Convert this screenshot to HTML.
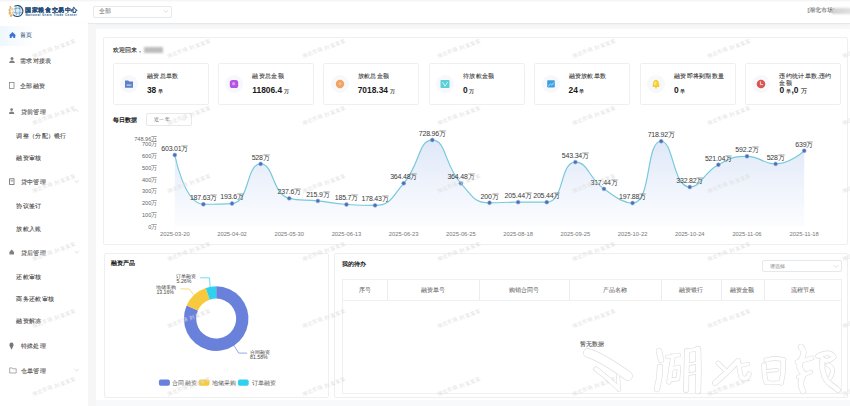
<!DOCTYPE html>
<html lang="zh"><head><meta charset="utf-8">
<style>
*{margin:0;padding:0;box-sizing:border-box}
html,body{width:850px;height:406px;overflow:hidden;background:#f8f9fb;font-family:"Liberation Sans",sans-serif;color:#333}
.abs{position:absolute}
.t{position:absolute;white-space:nowrap;line-height:1}
#hdr{left:0;top:0;width:850px;height:23.6px;background:#fff;border-bottom:1px solid #e8e8e8;box-shadow:0 1px 4px rgba(0,0,0,.045)}
#side{left:0;top:23px;width:88px;height:383px;background:#fff;box-shadow:1px 0 2px rgba(0,0,0,.03)}
#panel{left:95.6px;top:28px;width:755px;height:371.8px;background:#fff;border-top:1px solid #f7f7f7}
.card{position:absolute;border:1px solid #efefef;background:#fff;border-radius:2px}
.menu{font-size:6.4px;color:#4a4a4a;letter-spacing:0.3px;-webkit-text-stroke:0.1px #4a4a4a}
.stat .tt{position:absolute;font-size:6.3px;color:#333;white-space:nowrap;line-height:1;letter-spacing:0.3px;-webkit-text-stroke:0.08px #333}
.stat .vv{position:absolute;font-size:8.4px;font-weight:bold;color:#1a1a1a;white-space:nowrap;line-height:1}
.stat .vv small{font-size:5.3px;font-weight:normal;color:#333;margin-left:1.6px;-webkit-text-stroke:0.15px #333}
svg.chart,svg.donut,svg.ov{position:absolute;left:0;top:0}
.th{position:absolute;top:280px;height:20px;font-size:6.2px;color:#666;line-height:20px;text-align:center;-webkit-text-stroke:0.05px #666}
.wm{position:absolute;font-size:5px;letter-spacing:0.6px;color:#dedede;white-space:nowrap;line-height:1;transform:rotate(-20deg);transform-origin:center}
</style></head><body>
<div id="hdr" class="abs">
  <div class="abs" style="left:0;top:0;width:850px;height:2.2px;background:linear-gradient(#f1f1f1,#fff)"></div>
  <svg class="abs" style="left:0;top:0" width="90" height="23" viewBox="0 0 90 23">
    <g fill="#e6ae62" opacity="0.9">
      <ellipse cx="10.6" cy="7.6" rx="1" ry="1.6" transform="rotate(-20 10.6 7.6)"/>
      <ellipse cx="9.6" cy="10.2" rx="1.1" ry="1.7" transform="rotate(-5 9.6 10.2)"/>
      <ellipse cx="9.8" cy="13" rx="1.2" ry="1.7" transform="rotate(15 9.8 13)"/>
      <ellipse cx="11.2" cy="15.4" rx="1.2" ry="1.6" transform="rotate(40 11.2 15.4)"/>
      <ellipse cx="12.2" cy="9.4" rx="0.8" ry="1.4" fill="#f0c88a"/>
      <ellipse cx="12.4" cy="12.8" rx="0.9" ry="1.4" fill="#f0c88a"/>
    </g>
    <circle cx="17.6" cy="10.9" r="4.5" fill="#d9eef9"/>
    <g fill="none" stroke="#3a6f96" stroke-width="0.45">
      <path d="M13.6,9 Q17.6,7.4 21.6,9"/><path d="M13.4,12.4 Q17.6,14 21.8,12.4"/>
      <path d="M16.2,6.6 Q14.6,10.9 16.6,15.3"/><path d="M19,6.6 Q21,10.9 19.2,15.3"/>
    </g>
    <path d="M14.4,6.4 A5.5,5.5 0 1 1 13.2,14.6" fill="none" stroke="#1f4f75" stroke-width="1.1"/>
    <text x="25.4" y="11.9" font-size="5.9" fill="#1f4a76" font-weight="bold" letter-spacing="0.55" stroke="#1f4a76" stroke-width="0.12">国家粮食交易中心</text>
    <text x="25.4" y="15.9" font-size="3.1" fill="#2b5b8c" font-weight="bold" letter-spacing="0.4">National Grain Trade Center</text>
  </svg>
  <div class="abs" style="left:92.6px;top:5.9px;width:79.4px;height:11.7px;border:1px solid #e6e8ec;border-radius:2px;background:#fff"></div>
  <div class="t" style="left:98.5px;top:8.9px;font-size:5.8px;color:#555">全部</div>
  <svg class="abs" style="left:163px;top:9px" width="6" height="5" viewBox="0 0 6 5"><path d="M0.8,1.2 L3,3.4 L5.2,1.2" fill="none" stroke="#c4c4c4" stroke-width="0.6"/></svg>
  <div class="t" style="left:807.4px;top:8.4px;font-size:5.7px;color:#3a3a3a;letter-spacing:-0.1px">[湖北市场]</div>
  <div class="abs" style="left:832px;top:7.6px;width:22px;height:6.6px;background:linear-gradient(90deg,#d2d2d2,#dadada 60%,#e6e6e6);filter:blur(0.8px)"></div>
</div>

<div id="side" class="abs"></div>
<div class="abs" style="left:0;top:26px;width:88px;height:20px;background:linear-gradient(90deg,#eef7fd 0,#f7fbfe 18%,#fff 40%)"></div>
<svg class="abs" style="left:0;top:0" width="88" height="406" viewBox="0 0 88 406">
  <path d="M8.9,35.4 L12.5,32 L16.1,35.4 L15.2,35.4 L15.2,38 L13.3,38 L13.3,36.4 L11.7,36.4 L11.7,38 L9.8,38 L9.8,35.4 Z" fill="#3d72d4"/>
  <g fill="#808080">
    <circle cx="12" cy="58.4" r="1.5"/><path d="M9.2,63 Q9.2,60.4 12,60.4 Q14.8,60.4 14.8,63 Z"/>
    <circle cx="11.6" cy="109.6" r="1.4"/><path d="M9,114 Q9,111.6 11.6,111.6 Q14.2,111.6 14.2,114 Z"/>
    <rect x="10.6" y="180.4" width="2.4" height="1"/>
    <path d="M9.4,254.6 L14,254.6 L14,252 L11.7,249.6 L9.4,252 Z"/>
    <path d="M11.5,349.8 L9.5,345.6 Q9.3,342.6 11.5,342.6 Q13.7,342.6 13.5,345.6 Z" fill="#777"/>
  </g>
  <rect x="9.6" y="82.4" width="4.4" height="6" fill="none" stroke="#777" stroke-width="0.7"/>
  <rect x="9.6" y="178.8" width="4.4" height="5.6" fill="none" stroke="#666" stroke-width="0.8"/>
  <path d="M9.7,367.9 L12,367.9 L12.8,368.8 L16.2,368.8 L16.2,373 L9.7,373 Z" fill="none" stroke="#777" stroke-width="0.6"/>
  <g fill="none" stroke="#c8c8c8" stroke-width="0.6">
    <path d="M74,111.6 L76.2,109.6 L78.4,111.6"/>
    <path d="M74.5,180.4 L76.7,182.4 L78.9,180.4"/>
    <path d="M74.5,251 L76.7,253 L78.9,251"/>
    <path d="M74.5,369 L76.7,371 L78.9,369"/>
  </g>
</svg>
<div class="t menu" style="left:19.6px;top:32.1px;color:#4a6585;-webkit-text-stroke:0.1px #4a6585">首页</div>
<div class="t menu" style="left:20.2px;top:58.1px">需求对接表</div>
<div class="t menu" style="left:20.2px;top:83.1px">全部融资</div>
<div class="t menu" style="left:20.7px;top:109.3px">贷前管理</div>
<div class="t menu" style="left:16.4px;top:132.9px">调整（分配）银行</div>
<div class="t menu" style="left:16.4px;top:155.4px">融资审核</div>
<div class="t menu" style="left:20.7px;top:179.3px">贷中管理</div>
<div class="t menu" style="left:16.4px;top:202.9px">协议签订</div>
<div class="t menu" style="left:16.4px;top:226.2px">放款入账</div>
<div class="t menu" style="left:20.7px;top:249.6px">贷后管理</div>
<div class="t menu" style="left:16.4px;top:273.8px">还款审核</div>
<div class="t menu" style="left:16.4px;top:296.2px">商务还款审核</div>
<div class="t menu" style="left:16.4px;top:317.9px">融资解冻</div>
<div class="t menu" style="left:20.7px;top:342.9px">特殊处理</div>
<div class="t menu" style="left:20.7px;top:367.9px">仓单管理</div>

<div class="abs" style="left:88px;top:24px;width:7.6px;height:382px;background:#f6f6f7"></div>
<div id="panel" class="abs"></div>
<div class="card" style="left:103px;top:37px;width:745px;height:207.6px"></div>
<div class="t" style="left:112.6px;top:47.2px;font-size:6.2px;color:#222;-webkit-text-stroke:0.12px #222">欢迎回来，</div>
<div class="abs" style="left:143.7px;top:47px;width:19.7px;height:6.4px;background:#bdbdbd;filter:blur(0.9px)"></div>

<div class="card stat" style="left:112.5px;top:63.4px;width:96px;height:41.8px">
<svg class="abs" style="left:3.5px;top:7.7px" width="24" height="24" viewBox="-12 -12 24 24"><circle r="9" fill="#f7f8fb"/><path d="M-4,-3.6 L-0.8,-3.6 L0.4,-2.4 L4,-2.4 L4,3.8 L-4,3.8 Z" fill="#5f7fc8"/><rect x="-2.4" y="0.6" width="4.8" height="1" fill="#dfe8fb"/></svg>
<div class="tt" style="left:33.5px;top:8.6px">融资总单数</div>
<div class="vv" style="left:33.4px;top:21.9px">38<small>单</small></div>
</div>
<div class="card stat" style="left:217.9px;top:63.4px;width:96px;height:41.8px">
<svg class="abs" style="left:3.5px;top:7.7px" width="24" height="24" viewBox="-12 -12 24 24"><circle r="9" fill="#f7f8fb"/><rect x="-4.2" y="-4" width="8.4" height="8" rx="2.6" fill="#b455e2"/><circle cx="-0.4" cy="-0.3" r="1.6" fill="#de9cf5"/></svg>
<div class="tt" style="left:33.5px;top:8.6px">融资总金额</div>
<div class="vv" style="left:33.4px;top:21.9px">11806.4<small>万</small></div>
</div>
<div class="card stat" style="left:323.3px;top:63.4px;width:96px;height:41.8px">
<svg class="abs" style="left:3.5px;top:7.7px" width="24" height="24" viewBox="-12 -12 24 24"><circle r="9" fill="#f7f8fb"/><circle cx="0" cy="0" r="4.2" fill="#f2a263"/><path d="M-1.8,-0.4 L1.8,-0.4 M0,-2 L0,2" stroke="#f8c89a" stroke-width="0.7"/></svg>
<div class="tt" style="left:33.5px;top:8.6px">放款总金额</div>
<div class="vv" style="left:33.4px;top:21.9px">7018.34<small>万</small></div>
</div>
<div class="card stat" style="left:428.7px;top:63.4px;width:96px;height:41.8px">
<svg class="abs" style="left:3.5px;top:7.7px" width="24" height="24" viewBox="-12 -12 24 24"><circle r="9" fill="#f7f8fb"/><rect x="-4.5" y="-4" width="9" height="8" rx="0.8" fill="#5ccfd6"/><path d="M-2.6,-2 L0,2.2 L2.6,-2" fill="none" stroke="#c8f3f5" stroke-width="1"/></svg>
<div class="tt" style="left:33.5px;top:8.6px">待放款金额</div>
<div class="vv" style="left:33.4px;top:21.9px">0<small>万</small></div>
</div>
<div class="card stat" style="left:534.1px;top:63.4px;width:96px;height:41.8px">
<svg class="abs" style="left:3.5px;top:7.7px" width="24" height="24" viewBox="-12 -12 24 24"><circle r="9" fill="#f7f8fb"/><rect x="-3.8" y="-3.8" width="7.6" height="7.4" rx="0.8" fill="#3d9fe0"/><path d="M-2.6,2.4 L-0.6,-0.2 L1,1.2 L2.8,-1.6" fill="none" stroke="#a6e0fb" stroke-width="0.9"/></svg>
<div class="tt" style="left:33.5px;top:8.6px">融资放款单数</div>
<div class="vv" style="left:33.4px;top:21.9px">24<small>单</small></div>
</div>
<div class="card stat" style="left:639.5px;top:63.4px;width:96px;height:41.8px">
<svg class="abs" style="left:3.5px;top:7.7px" width="24" height="24" viewBox="-12 -12 24 24"><circle r="9" fill="#f7f8fb"/><path d="M-3.4,3 Q-3.2,-4.3 0,-4.3 Q3.2,-4.3 3.4,3 Z" fill="#f1cf35"/><circle cx="0" cy="3.6" r="0.9" fill="#f1cf35"/><ellipse cx="-0.6" cy="-0.6" rx="1.2" ry="1.8" fill="#f8e88a"/></svg>
<div class="tt" style="left:33.5px;top:8.6px">融资即将到期数量</div>
<div class="vv" style="left:33.4px;top:21.9px">0<small>单</small></div>
</div>
<div class="card stat" style="left:744.9px;top:63.4px;width:96px;height:41.8px">
<svg class="abs" style="left:3.5px;top:7.7px" width="24" height="24" viewBox="-12 -12 24 24"><circle r="9" fill="#f7f8fb"/><circle cx="0" cy="0" r="4.3" fill="#d95555"/><path d="M-0.6,-2.6 L-0.6,0.6 L2,0.6" fill="none" stroke="#fbe1e1" stroke-width="0.9"/></svg>
<div class="tt" style="left:33.5px;top:8.6px;font-size:6px">违约统计单数,违约</div><div class="tt" style="left:33.5px;top:15.2px;font-size:6px">金额</div>
<div class="vv" style="left:33.5px;top:22px">0 <small style="margin-left:0">单</small>,0 <small style="margin-left:0;font-size:6px">万</small></div>
</div>

<div class="t" style="left:113.4px;top:116.8px;font-size:6.4px;color:#1a1a1a;font-weight:bold">每日数据</div>
<div class="abs" style="left:146.3px;top:113px;width:45.3px;height:12.9px;border:1px solid #e6e8ec;border-radius:2px"></div>
<div class="t" style="left:154px;top:116.6px;font-size:5.4px;color:#555;letter-spacing:0.3px">近一年</div>
<svg class="abs" style="left:181px;top:117px" width="6" height="5" viewBox="0 0 6 5"><path d="M0.8,1.2 L3,3.4 L5.2,1.2" fill="none" stroke="#d0d0d0" stroke-width="0.6"/></svg>

<svg class="chart" width="850" height="406" viewBox="0 0 850 406">
<defs><linearGradient id="ag" x1="0" y1="0" x2="0" y2="1"><stop offset="0" stop-color="#dfe8f8"/><stop offset="0.45" stop-color="#edf2fb"/><stop offset="0.75" stop-color="#f5f8fd"/><stop offset="1" stop-color="#fbfcfe"/></linearGradient></defs>
<path d="M174.80,155.00 C174.80,155.00 184.37,204.25 203.41,204.25 C212.98,204.25 221.46,204.25 232.02,203.54 C250.07,202.34 245.69,163.90 260.63,163.90 C274.30,163.90 271.81,194.32 289.24,198.33 C300.42,200.90 303.57,199.37 317.85,200.90 C332.18,202.44 332.10,203.61 346.46,204.48 C360.71,205.34 362.42,205.34 375.07,205.34 C391.03,205.34 391.93,196.69 403.68,183.28 C420.54,164.05 417.99,140.07 432.29,140.07 C446.60,140.07 443.75,164.48 460.90,183.28 C472.36,195.84 473.85,202.79 489.51,202.79 C502.46,202.79 503.81,202.14 518.12,202.14 C532.42,202.14 536.21,202.14 546.73,202.14 C564.82,202.14 559.41,162.08 575.34,162.08 C588.02,162.08 588.18,177.58 603.95,188.86 C616.79,198.06 623.43,203.04 632.56,203.04 C652.04,203.04 645.21,141.26 661.17,141.26 C673.82,141.26 672.67,187.04 689.78,187.04 C701.28,187.04 702.69,173.16 718.39,164.72 C731.30,157.78 732.64,156.28 747.00,156.28 C761.25,156.28 761.75,163.90 775.61,163.90 C790.36,163.90 804.22,150.73 804.22,150.73 L804.22,226.5 L174.80,226.5 Z" fill="url(#ag)" stroke="none"/>
<path d="M174.80,155.00 C174.80,155.00 184.37,204.25 203.41,204.25 C212.98,204.25 221.46,204.25 232.02,203.54 C250.07,202.34 245.69,163.90 260.63,163.90 C274.30,163.90 271.81,194.32 289.24,198.33 C300.42,200.90 303.57,199.37 317.85,200.90 C332.18,202.44 332.10,203.61 346.46,204.48 C360.71,205.34 362.42,205.34 375.07,205.34 C391.03,205.34 391.93,196.69 403.68,183.28 C420.54,164.05 417.99,140.07 432.29,140.07 C446.60,140.07 443.75,164.48 460.90,183.28 C472.36,195.84 473.85,202.79 489.51,202.79 C502.46,202.79 503.81,202.14 518.12,202.14 C532.42,202.14 536.21,202.14 546.73,202.14 C564.82,202.14 559.41,162.08 575.34,162.08 C588.02,162.08 588.18,177.58 603.95,188.86 C616.79,198.06 623.43,203.04 632.56,203.04 C652.04,203.04 645.21,141.26 661.17,141.26 C673.82,141.26 672.67,187.04 689.78,187.04 C701.28,187.04 702.69,173.16 718.39,164.72 C731.30,157.78 732.64,156.28 747.00,156.28 C761.25,156.28 761.75,163.90 775.61,163.90 C790.36,163.90 804.22,150.73 804.22,150.73" fill="none" stroke="#78c9dc" stroke-width="1.2"/>
<g fill="#4d6db5" stroke="#8fb0de" stroke-width="0.6"><circle cx="174.80" cy="155.00" r="1.95"/><circle cx="203.41" cy="204.25" r="1.95"/><circle cx="232.02" cy="203.54" r="1.95"/><circle cx="260.63" cy="163.90" r="1.95"/><circle cx="289.24" cy="198.33" r="1.95"/><circle cx="317.85" cy="200.90" r="1.95"/><circle cx="346.46" cy="204.48" r="1.95"/><circle cx="375.07" cy="205.34" r="1.95"/><circle cx="403.68" cy="183.28" r="1.95"/><circle cx="432.29" cy="140.07" r="1.95"/><circle cx="460.90" cy="183.28" r="1.95"/><circle cx="489.51" cy="202.79" r="1.95"/><circle cx="518.12" cy="202.14" r="1.95"/><circle cx="546.73" cy="202.14" r="1.95"/><circle cx="575.34" cy="162.08" r="1.95"/><circle cx="603.95" cy="188.86" r="1.95"/><circle cx="632.56" cy="203.04" r="1.95"/><circle cx="661.17" cy="141.26" r="1.95"/><circle cx="689.78" cy="187.04" r="1.95"/><circle cx="718.39" cy="164.72" r="1.95"/><circle cx="747.00" cy="156.28" r="1.95"/><circle cx="775.61" cy="163.90" r="1.95"/><circle cx="804.22" cy="150.73" r="1.95"/></g>
<g class="lbl" text-anchor="middle" fill="#3a3a3a" font-size="7" letter-spacing="-0.2"><text x="174.80" y="150.80">603.01万</text><text x="203.41" y="200.05">187.63万</text><text x="232.02" y="199.34">193.6万</text><text x="260.63" y="159.70">528万</text><text x="289.24" y="194.13">237.6万</text><text x="317.85" y="196.70">215.9万</text><text x="346.46" y="200.28">185.7万</text><text x="375.07" y="201.14">178.43万</text><text x="403.68" y="179.08">364.48万</text><text x="432.29" y="135.87">728.96万</text><text x="460.90" y="179.08">364.48万</text><text x="489.51" y="198.59">200万</text><text x="518.12" y="197.94">205.44万</text><text x="546.73" y="197.94">205.44万</text><text x="575.34" y="157.88">543.34万</text><text x="603.95" y="184.66">317.44万</text><text x="632.56" y="198.84">197.88万</text><text x="661.17" y="137.06">718.92万</text><text x="689.78" y="182.84">332.82万</text><text x="718.39" y="160.52">521.04万</text><text x="747.00" y="152.08">592.2万</text><text x="775.61" y="159.70">528万</text><text x="804.22" y="146.53">639万</text></g>
<g text-anchor="end" fill="#666" font-size="5.6"><text x="157.3" y="228.50">0万</text><text x="157.3" y="216.77">100万</text><text x="157.3" y="205.04">200万</text><text x="157.3" y="193.31">300万</text><text x="157.3" y="181.58">400万</text><text x="157.3" y="169.85">500万</text><text x="157.3" y="158.12">600万</text><text x="157.3" y="146.39">700万</text><text x="157.3" y="140.65">748.96万</text></g>
<g text-anchor="middle" fill="#777" font-size="5.8"><text x="174.80" y="236.2">2025-03-20</text><text x="232.02" y="236.2">2025-04-02</text><text x="289.24" y="236.2">2025-05-30</text><text x="346.46" y="236.2">2025-06-13</text><text x="403.68" y="236.2">2025-06-23</text><text x="460.90" y="236.2">2025-06-25</text><text x="518.12" y="236.2">2025-08-18</text><text x="575.34" y="236.2">2025-09-25</text><text x="632.56" y="236.2">2025-10-22</text><text x="689.78" y="236.2">2025-10-24</text><text x="747.00" y="236.2">2025-11-06</text><text x="804.22" y="236.2">2025-11-18</text></g>
</svg>

<div class="card" style="left:103.5px;top:252.5px;width:225px;height:145px"></div>
<div class="t" style="left:111.3px;top:260.3px;font-size:6.2px;color:#1a1a1a;font-weight:bold">融资产品</div>
<svg class="donut" width="850" height="406" viewBox="0 0 850 406"><path d="M216.20,286.30 A32.3,32.3 0 1 1 186.62,305.62 L197.89,310.56 A20,20 0 1 0 216.20,298.60 Z" fill="#6a81dc"/><path d="M186.62,305.62 A32.3,32.3 0 0 1 205.72,288.05 L209.71,299.68 A20,20 0 0 0 197.89,310.56 Z" fill="#f7ca3e"/><path d="M205.72,288.05 A32.3,32.3 0 0 1 216.20,286.30 L216.20,298.60 A20,20 0 0 0 209.71,299.68 Z" fill="#2fd1ee"/>
<g fill="none" stroke-width="0.7">
<polyline points="233.9,345.3 238.7,353.1 247.2,353.1" stroke="#6a81dc"/>
<polyline points="193.3,294.5 189.4,289.1 180.5,288.8" stroke="#f7ca3e"/>
<polyline points="210.1,287.7 209.6,277.8 200.2,277.8" stroke="#2fd1ee"/>
</g>
<g font-size="5.2" fill="#444">
<text x="250.1" y="353.6">合同融资</text><text x="250.1" y="358.5">81.58%</text>
<text x="156.4" y="288.8">地储采购</text><text x="156.4" y="293.6">13.16%</text>
<text x="176.1" y="277.9">订单融资</text><text x="176.6" y="282.8">5.26%</text>
</g>
<g>
<rect x="158.9" y="379.6" width="11" height="6.2" rx="1.8" fill="#6a81dc"/>
<rect x="198.7" y="379.6" width="10.8" height="6.2" rx="1.8" fill="#f7ca3e"/>
<rect x="237.9" y="379.6" width="10.8" height="6.2" rx="1.8" fill="#2fd1ee"/>
</g>
<g font-size="5.5" fill="#555" letter-spacing="0.2">
<text x="172.2" y="384.9">合同融资</text><text x="211.9" y="384.9">地储采购</text><text x="251.7" y="384.9">订单融资</text>
</g>
</svg>

<div class="card" style="left:334px;top:253px;width:514px;height:144.5px"></div>
<div class="t" style="left:342.4px;top:261.4px;font-size:6.2px;color:#1a1a1a;font-weight:bold">我的待办</div>
<div class="abs" style="left:762.3px;top:260px;width:80px;height:12.4px;border:1px solid #e6e8ec;border-radius:2px"></div>
<div class="t" style="left:769.5px;top:263.6px;font-size:5.4px;color:#a8a8a8;-webkit-text-stroke:0.1px #a8a8a8">请选择</div>
<svg class="abs" style="left:833px;top:264px" width="6" height="5" viewBox="0 0 6 5"><path d="M0.8,1.2 L3,3.4 L5.2,1.2" fill="none" stroke="#ccc" stroke-width="0.6"/></svg>
<div class="abs" style="left:342.3px;top:279.2px;width:500px;height:115px;border:1px solid #f0f0f0"></div>
<div class="abs" style="left:342.3px;top:300px;width:500px;height:1px;background:#f0f0f0"></div>
<div class="th" style="left:342.3px;width:44.5px">序号</div>
<div class="th" style="left:386.8px;width:91.9px">融资单号</div>
<div class="abs" style="left:386.8px;top:280px;width:1px;height:20px;background:#ededed"></div>
<div class="th" style="left:478.7px;width:90.6px">购销合同号</div>
<div class="abs" style="left:478.7px;top:280px;width:1px;height:20px;background:#ededed"></div>
<div class="th" style="left:569.3px;width:91.3px">产品名称</div>
<div class="abs" style="left:569.3px;top:280px;width:1px;height:20px;background:#ededed"></div>
<div class="th" style="left:660.6px;width:60.0px">融资银行</div>
<div class="abs" style="left:660.6px;top:280px;width:1px;height:20px;background:#ededed"></div>
<div class="th" style="left:720.6px;width:43.5px">融资金额</div>
<div class="abs" style="left:720.6px;top:280px;width:1px;height:20px;background:#ededed"></div>
<div class="th" style="left:764.1px;width:77.7px">流程节点</div>
<div class="abs" style="left:764.1px;top:280px;width:1px;height:20px;background:#ededed"></div>
<div class="t" style="left:580.3px;top:341.4px;font-size:6.2px;color:#555;-webkit-text-stroke:0.12px #555">暂无数据</div>

<div class="wm" style="left:28.5px;top:45.8px;width:50px;text-align:center">湖北市场 刘某某某</div>
<div class="wm" style="left:163.5px;top:45.8px;width:50px;text-align:center">湖北市场 刘某某某</div>
<div class="wm" style="left:298.5px;top:45.8px;width:50px;text-align:center">湖北市场 刘某某某</div>
<div class="wm" style="left:433.5px;top:45.8px;width:50px;text-align:center">湖北市场 刘某某某</div>
<div class="wm" style="left:568.5px;top:45.8px;width:50px;text-align:center">湖北市场 刘某某某</div>
<div class="wm" style="left:703.5px;top:45.8px;width:50px;text-align:center">湖北市场 刘某某某</div>
<div class="wm" style="left:838.5px;top:45.8px;width:50px;text-align:center">湖北市场 刘某某某</div>
<div class="wm" style="left:28.5px;top:113.4px;width:50px;text-align:center">湖北市场 刘某某某</div>
<div class="wm" style="left:163.5px;top:113.4px;width:50px;text-align:center">湖北市场 刘某某某</div>
<div class="wm" style="left:298.5px;top:113.4px;width:50px;text-align:center">湖北市场 刘某某某</div>
<div class="wm" style="left:433.5px;top:113.4px;width:50px;text-align:center">湖北市场 刘某某某</div>
<div class="wm" style="left:568.5px;top:113.4px;width:50px;text-align:center">湖北市场 刘某某某</div>
<div class="wm" style="left:703.5px;top:113.4px;width:50px;text-align:center">湖北市场 刘某某某</div>
<div class="wm" style="left:838.5px;top:113.4px;width:50px;text-align:center">湖北市场 刘某某某</div>
<div class="wm" style="left:28.5px;top:181.0px;width:50px;text-align:center">湖北市场 刘某某某</div>
<div class="wm" style="left:163.5px;top:181.0px;width:50px;text-align:center">湖北市场 刘某某某</div>
<div class="wm" style="left:298.5px;top:181.0px;width:50px;text-align:center">湖北市场 刘某某某</div>
<div class="wm" style="left:433.5px;top:181.0px;width:50px;text-align:center">湖北市场 刘某某某</div>
<div class="wm" style="left:568.5px;top:181.0px;width:50px;text-align:center">湖北市场 刘某某某</div>
<div class="wm" style="left:703.5px;top:181.0px;width:50px;text-align:center">湖北市场 刘某某某</div>
<div class="wm" style="left:838.5px;top:181.0px;width:50px;text-align:center">湖北市场 刘某某某</div>
<div class="wm" style="left:28.5px;top:248.6px;width:50px;text-align:center">湖北市场 刘某某某</div>
<div class="wm" style="left:163.5px;top:248.6px;width:50px;text-align:center">湖北市场 刘某某某</div>
<div class="wm" style="left:298.5px;top:248.6px;width:50px;text-align:center">湖北市场 刘某某某</div>
<div class="wm" style="left:433.5px;top:248.6px;width:50px;text-align:center">湖北市场 刘某某某</div>
<div class="wm" style="left:568.5px;top:248.6px;width:50px;text-align:center">湖北市场 刘某某某</div>
<div class="wm" style="left:703.5px;top:248.6px;width:50px;text-align:center">湖北市场 刘某某某</div>
<div class="wm" style="left:838.5px;top:248.6px;width:50px;text-align:center">湖北市场 刘某某某</div>
<div class="wm" style="left:28.5px;top:316.2px;width:50px;text-align:center">湖北市场 刘某某某</div>
<div class="wm" style="left:163.5px;top:316.2px;width:50px;text-align:center">湖北市场 刘某某某</div>
<div class="wm" style="left:298.5px;top:316.2px;width:50px;text-align:center">湖北市场 刘某某某</div>
<div class="wm" style="left:433.5px;top:316.2px;width:50px;text-align:center">湖北市场 刘某某某</div>
<div class="wm" style="left:568.5px;top:316.2px;width:50px;text-align:center">湖北市场 刘某某某</div>
<div class="wm" style="left:703.5px;top:316.2px;width:50px;text-align:center">湖北市场 刘某某某</div>
<div class="wm" style="left:838.5px;top:316.2px;width:50px;text-align:center">湖北市场 刘某某某</div>
<div class="wm" style="left:28.5px;top:383.8px;width:50px;text-align:center">湖北市场 刘某某某</div>
<div class="wm" style="left:163.5px;top:383.8px;width:50px;text-align:center">湖北市场 刘某某某</div>
<div class="wm" style="left:298.5px;top:383.8px;width:50px;text-align:center">湖北市场 刘某某某</div>
<div class="wm" style="left:433.5px;top:383.8px;width:50px;text-align:center">湖北市场 刘某某某</div>
<div class="wm" style="left:568.5px;top:383.8px;width:50px;text-align:center">湖北市场 刘某某某</div>
<div class="wm" style="left:703.5px;top:383.8px;width:50px;text-align:center">湖北市场 刘某某某</div>
<div class="wm" style="left:838.5px;top:383.8px;width:50px;text-align:center">湖北市场 刘某某某</div><svg class="ov" width="850" height="406" viewBox="0 0 850 406">
<g fill="none" stroke-linecap="round" stroke-linejoin="round">
<path d="M588,353 Q600,356 628,376" stroke="#dfdfdf" stroke-width="9.8"/>
<path d="M596,369 Q608,378 618,388" stroke="#dfdfdf" stroke-width="5.3"/>
<path d="M618,376 L619,390" stroke="#dfdfdf" stroke-width="4.1"/>
<path d="M659,351 L661,360" stroke="#dfdfdf" stroke-width="6.3"/>
<path d="M660,367 Q660,378 657,389" stroke="#dfdfdf" stroke-width="6.3"/>
<path d="M667,357 L679,355" stroke="#dfdfdf" stroke-width="4.3"/>
<path d="M673,356 Q671,370 669,382" stroke="#dfdfdf" stroke-width="5.3"/>
<path d="M670,369 L679,367 L678,379 L670,380" stroke="#dfdfdf" stroke-width="4.3"/>
<path d="M687,351 L686,390" stroke="#dfdfdf" stroke-width="5.8"/>
<path d="M698,349 Q699,370 698,391" stroke="#dfdfdf" stroke-width="6.3"/>
<path d="M687,351 L698,349" stroke="#dfdfdf" stroke-width="4.3"/>
<path d="M689,364 L696,363" stroke="#dfdfdf" stroke-width="3.3"/>
<path d="M689,374 L696,373" stroke="#dfdfdf" stroke-width="3.3"/>
<path d="M738,361 Q728,372 715,383" stroke="#dfdfdf" stroke-width="5.8"/>
<path d="M718,363 L727,372" stroke="#dfdfdf" stroke-width="4.8"/>
<path d="M739,364 Q740,376 742,378 Q748,380 749,374" stroke="#dfdfdf" stroke-width="5.3"/>
<path d="M739,366 L748,364" stroke="#dfdfdf" stroke-width="4.3"/>
<path d="M764,365 Q764,375 766,382" stroke="#dfdfdf" stroke-width="5.3"/>
<path d="M766,360 Q776,357 784,360" stroke="#dfdfdf" stroke-width="4.8"/>
<path d="M783,360 Q784,372 781,383" stroke="#dfdfdf" stroke-width="5.3"/>
<path d="M766,382 Q774,384 781,382" stroke="#dfdfdf" stroke-width="4.3"/>
<path d="M767,371 L777,370" stroke="#dfdfdf" stroke-width="3.8"/>
<path d="M801,347 Q806,352 801,360 Q797,368 804,374 Q798,382 803,391" stroke="#dfdfdf" stroke-width="6.3"/>
<path d="M797,362 L812,358" stroke="#dfdfdf" stroke-width="4.8"/>
<path d="M798,377 L811,372" stroke="#dfdfdf" stroke-width="4.3"/>
<path d="M818,356 Q830,350 834,357 Q826,364 822,358" stroke="#dfdfdf" stroke-width="5.3"/>
<path d="M822,362 Q822,378 830,384 Q836,388 838,390" stroke="#dfdfdf" stroke-width="5.8"/>
<path d="M828,365 Q836,368 830,378" stroke="#dfdfdf" stroke-width="4.8"/>
<path d="M588,353 Q600,356 628,376" stroke="#fff" stroke-width="8.5"/>
<path d="M596,369 Q608,378 618,388" stroke="#fff" stroke-width="4.0"/>
<path d="M618,376 L619,390" stroke="#fff" stroke-width="2.8"/>
<path d="M659,351 L661,360" stroke="#fff" stroke-width="5.0"/>
<path d="M660,367 Q660,378 657,389" stroke="#fff" stroke-width="5.0"/>
<path d="M667,357 L679,355" stroke="#fff" stroke-width="3.0"/>
<path d="M673,356 Q671,370 669,382" stroke="#fff" stroke-width="4.0"/>
<path d="M670,369 L679,367 L678,379 L670,380" stroke="#fff" stroke-width="3.0"/>
<path d="M687,351 L686,390" stroke="#fff" stroke-width="4.5"/>
<path d="M698,349 Q699,370 698,391" stroke="#fff" stroke-width="5.0"/>
<path d="M687,351 L698,349" stroke="#fff" stroke-width="3.0"/>
<path d="M689,364 L696,363" stroke="#fff" stroke-width="2.0"/>
<path d="M689,374 L696,373" stroke="#fff" stroke-width="2.0"/>
<path d="M738,361 Q728,372 715,383" stroke="#fff" stroke-width="4.5"/>
<path d="M718,363 L727,372" stroke="#fff" stroke-width="3.5"/>
<path d="M739,364 Q740,376 742,378 Q748,380 749,374" stroke="#fff" stroke-width="4.0"/>
<path d="M739,366 L748,364" stroke="#fff" stroke-width="3.0"/>
<path d="M764,365 Q764,375 766,382" stroke="#fff" stroke-width="4.0"/>
<path d="M766,360 Q776,357 784,360" stroke="#fff" stroke-width="3.5"/>
<path d="M783,360 Q784,372 781,383" stroke="#fff" stroke-width="4.0"/>
<path d="M766,382 Q774,384 781,382" stroke="#fff" stroke-width="3.0"/>
<path d="M767,371 L777,370" stroke="#fff" stroke-width="2.5"/>
<path d="M801,347 Q806,352 801,360 Q797,368 804,374 Q798,382 803,391" stroke="#fff" stroke-width="5.0"/>
<path d="M797,362 L812,358" stroke="#fff" stroke-width="3.5"/>
<path d="M798,377 L811,372" stroke="#fff" stroke-width="3.0"/>
<path d="M818,356 Q830,350 834,357 Q826,364 822,358" stroke="#fff" stroke-width="4.0"/>
<path d="M822,362 Q822,378 830,384 Q836,388 838,390" stroke="#fff" stroke-width="4.5"/>
<path d="M828,365 Q836,368 830,378" stroke="#fff" stroke-width="3.5"/>
</g></svg>
</body></html>
